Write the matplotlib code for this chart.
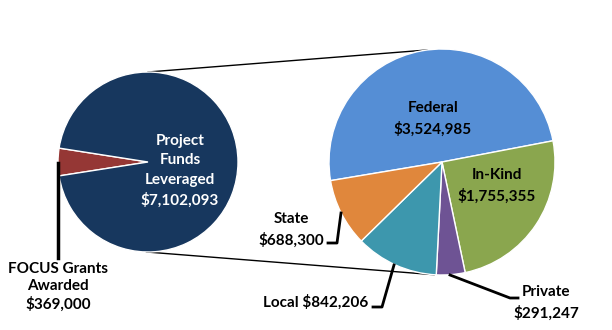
import numpy as np
import matplotlib.pyplot as plt

plt.rcParams['font.family'] = ['Lato', 'DejaVu Sans']

# first pie: grants vs. leveraged funds
main_labels = ['FOCUS Grants\nAwarded', 'Project\nFunds\nLeveraged']
main_values = [369000, 7102093]
main_colors = ['#953735', '#17375E']

# second pie: breakdown of leveraged funds
src_labels = ['Federal', 'In-Kind', 'Private', 'Local', 'State']
src_values = [3524985, 1755355, 291247, 842206, 688300]
src_colors = ['#558ED5', '#8AA64E', '#6E5394', '#3D97AD', '#E0873C']

W, H = 612, 330
fig = plt.figure(figsize=(W / 100, H / 100), dpi=100)
ax = fig.add_axes([0, 0, 1, 1])

def P(x, y):
    # pixel-style coordinates measured from the top-left
    return (x, H - y)

c1, r1 = P(148, 162), 90
c2, r2 = P(442, 162), 113

share = main_values[0] / sum(main_values) * 360
ax.pie(main_values, colors=main_colors, center=c1, radius=r1,
       startangle=180 - share / 2, counterclock=True,
       wedgeprops=dict(edgecolor='white', linewidth=1), frame=True)
ax.pie(src_values, colors=src_colors, center=c2, radius=r2,
       startangle=189.5, counterclock=False,
       wedgeprops=dict(edgecolor='white', linewidth=1), frame=True)
ax.set_xlim(0, W)
ax.set_ylim(0, H)
ax.set_aspect('equal')
ax.axis('off')

# connector lines between the two pies
for a1, a2 in [(90, 97.5), (269, 266)]:
    p1 = (c1[0] + r1 * np.cos(np.radians(a1)), c1[1] + r1 * np.sin(np.radians(a1)))
    p2 = (c2[0] + r2 * np.cos(np.radians(a2)), c2[1] + r2 * np.sin(np.radians(a2)))
    ax.plot([p1[0], p2[0]], [p1[1], p2[1]], color='black', lw=1, zorder=0)

fs = 11
def money(v):
    return '${:,}'.format(v)

# labels on the first pie
ax.text(*P(180, 171), main_labels[1] + '\n' + money(main_values[1]),
        ha='center', va='center', color='white', fontsize=fs,
        fontweight='bold', linespacing=1.5)
ax.text(*P(58, 287), main_labels[0] + '\n' + money(main_values[0]),
        ha='center', va='center', color='black', fontsize=fs,
        fontweight='bold', linespacing=1.25)
ax.plot(*zip(P(58, 163), P(58, 258)), color='black', lw=2.5)

# labels inside the second pie
ax.text(*P(433, 119), src_labels[0] + '\n' + money(src_values[0]),
        ha='center', va='center', fontsize=fs, fontweight='bold', linespacing=1.5)
ax.text(*P(497, 186), src_labels[1] + '\n' + money(src_values[1]),
        ha='center', va='center', fontsize=fs, fontweight='bold', linespacing=1.5)

# outside labels with leader lines
ax.text(*P(291, 230), src_labels[4] + '\n' + money(src_values[4]),
        ha='center', va='center', fontsize=fs, fontweight='bold', linespacing=1.5)
ax.plot(*zip(P(328, 243), P(337, 243), P(341, 213)), color='black', lw=2)

ax.text(*P(316, 302), src_labels[3] + ' ' + money(src_values[3]),
        ha='center', va='center', fontsize=fs, fontweight='bold')
ax.plot(*zip(P(373, 307), P(382, 307), P(394, 265)), color='black', lw=2)

ax.text(*P(546, 303), src_labels[2] + '\n' + money(src_values[2]),
        ha='center', va='center', fontsize=fs, fontweight='bold', linespacing=1.5)
ax.plot(*zip(P(450, 275), P(510, 298), P(518, 298)), color='black', lw=2)

fig.savefig('out.png', dpi=100)
